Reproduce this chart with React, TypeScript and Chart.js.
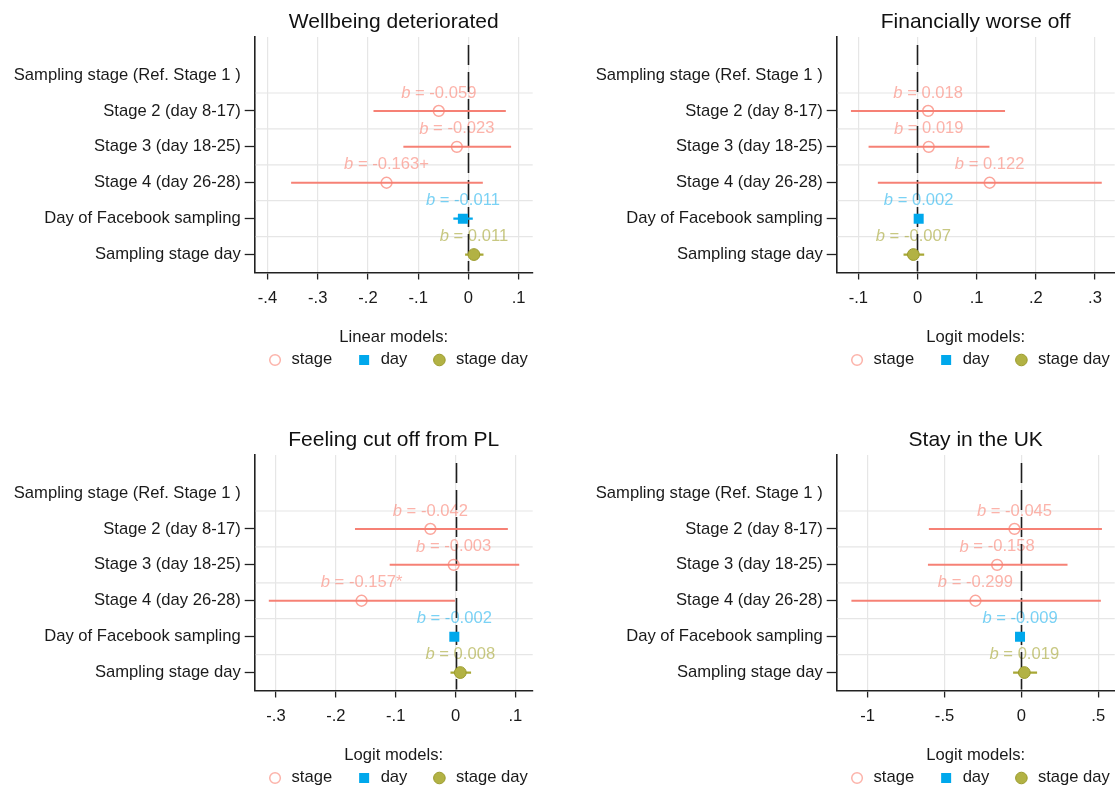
import React, { useEffect, useRef } from "react";
import { Chart, registerables } from "chart.js";

Chart.register(...registerables);

const FONT = '"Liberation Sans", Arial, Helvetica, sans-serif';

// ---------- text ----------
const rowLabels = [
  "Sampling stage (Ref. Stage 1 )",
  "Stage 2 (day 8-17)",
  "Stage 3 (day 18-25)",
  "Stage 4 (day 26-28)",
  "Day of Facebook sampling",
  "Sampling stage day",
];
const seriesNames = ["stage", "day", "stage day"];
const panelTitles = [
  "Wellbeing deteriorated",
  "Financially worse off",
  "Feeling cut off from PL",
  "Stay in the UK",
];
const modelLabels = ["Linear models:", "Logit models:", "Logit models:", "Logit models:"];

// ---------- data ----------
// order: Stage 2, Stage 3, Stage 4, Day of Facebook sampling, Sampling stage day
const wellbeingB = [-0.059, -0.023, -0.163, -0.011, 0.011];
const wellbeingLo = [-0.189, -0.1295, -0.353, -0.03, -0.0066];
const wellbeingHi = [0.0745, 0.085, 0.0287, 0.0087, 0.03];
const wellbeingStars = ["", "", "+", "", ""];

const financeB = [0.018, 0.019, 0.122, 0.002, -0.007];
const financeLo = [-0.1125, -0.0827, -0.067, -0.001, -0.0236];
const financeHi = [0.148, 0.1216, 0.3115, 0.005, 0.0113];
const financeStars = ["", "", "", "", ""];

const cutoffB = [-0.042, -0.003, -0.157, -0.002, 0.008];
const cutoffLo = [-0.168, -0.11, -0.312, -0.006, -0.0084];
const cutoffHi = [0.0875, 0.1065, -0.001, 0.002, 0.026];
const cutoffStars = ["", "", "*", "", ""];

const stayB = [-0.045, -0.158, -0.299, -0.009, 0.019];
const stayLo = [-0.602, -0.608, -1.106, -0.03, -0.054];
const stayHi = [0.524, 0.3, 0.517, 0.012, 0.102];
const stayStars = ["", "", "", "", ""];

const wellbeingTicks = [-0.4, -0.3, -0.2, -0.1, 0, 0.1];
const financeTicks = [-0.1, 0, 0.1, 0.2, 0.3];
const cutoffTicks = [-0.3, -0.2, -0.1, 0, 0.1];
const stayTicks = [-1, -0.5, 0, 0.5];

const wellbeingRange = [-0.4255, 0.128];
const financeRange = [-0.1366, 0.3334];
const cutoffRange = [-0.3356, 0.129];
const stayRange = [-1.2017, 0.607];

const coefRows = [1, 2, 3, 4, 5];
const rowTicks = [0, 1, 2, 3, 4, 5];
const gridRows = [0.5, 1.5, 2.5, 3.5, 4.5];

// ---------- style ----------
const W = 582;
const H = 418;
const AREA_LEFT = 254.7;
const AREA_RIGHT = 532.7;
const AREA_TOP = 37;
const XAXIS_H = 40;
const AREA_BOTTOM = 272.5;

const SALMON_LINE = "rgba(246,122,110,0.95)";
const SALMON_MARK = "rgba(250,128,114,0.7)";
const SALMON_TEXT = "rgba(250,128,114,0.6)";
const BLUE = "#00A8EC";
const BLUE_TEXT = "rgba(0,169,236,0.52)";
const OLIVE_FILL = "#B2B244";
const OLIVE_EDGE = "#9A9A2A";
const OLIVE_LINE = "#A8A836";
const OLIVE_TEXT = "rgba(160,160,40,0.58)";
const GRID = "#e6e6e6";
const AXIS = "#222222";
const TEXT = "#1a1a1a";
const FS = 16.6;

const fmtTick = (v: number) => {
  if (Math.abs(v) < 1e-9) return "0";
  const s = String(Math.round(v * 100) / 100);
  return s.replace(/^(-?)0\./, "$1.");
};

type PanelCfg = {
  title: string;
  model: string;
  b: number[];
  lo: number[];
  hi: number[];
  stars: string[];
  ticks: number[];
  range: number[];
};

const panels: PanelCfg[] = [
  { title: panelTitles[0], model: modelLabels[0], b: wellbeingB, lo: wellbeingLo, hi: wellbeingHi, stars: wellbeingStars, ticks: wellbeingTicks, range: wellbeingRange },
  { title: panelTitles[1], model: modelLabels[1], b: financeB, lo: financeLo, hi: financeHi, stars: financeStars, ticks: financeTicks, range: financeRange },
  { title: panelTitles[2], model: modelLabels[2], b: cutoffB, lo: cutoffLo, hi: cutoffHi, stars: cutoffStars, ticks: cutoffTicks, range: cutoffRange },
  { title: panelTitles[3], model: modelLabels[3], b: stayB, lo: stayLo, hi: stayHi, stars: stayStars, ticks: stayTicks, range: stayRange },
];

function drawMarker(ctx: CanvasRenderingContext2D, kind: number, x: number, y: number) {
  ctx.save();
  ctx.setLineDash([]);
  if (kind === 0) {
    ctx.beginPath();
    ctx.arc(x, y, 5.3, 0, Math.PI * 2);
    ctx.strokeStyle = "rgba(250,128,114,0.6)";
    ctx.lineWidth = 1.5;
    ctx.stroke();
  } else if (kind === 1) {
    ctx.fillStyle = BLUE;
    ctx.fillRect(x - 5, y - 5, 10, 10);
  } else {
    ctx.beginPath();
    ctx.arc(x, y, 5.8, 0, Math.PI * 2);
    ctx.fillStyle = OLIVE_FILL;
    ctx.fill();
    ctx.strokeStyle = OLIVE_EDGE;
    ctx.lineWidth = 1;
    ctx.stroke();
  }
  ctx.restore();
}

function makeOverlay(p: PanelCfg) {
  return {
    id: "coefOverlay",
    beforeDatasetsDraw(chart: any) {
      const { ctx, chartArea: a, scales } = chart;
      const xs = scales.x;
      const ys = scales.y;
      ctx.save();
      // horizontal grid between rows
      ctx.setLineDash([]);
      ctx.strokeStyle = GRID;
      ctx.lineWidth = 1.2;
      gridRows.forEach((r) => {
        const py = ys.getPixelForValue(r);
        ctx.beginPath();
        ctx.moveTo(a.left + 1, py);
        ctx.lineTo(a.right, py);
        ctx.stroke();
      });
      // coefficient labels
      p.b.forEach((v, i) => {
        const cx = xs.getPixelForValue(v);
        const cy = ys.getPixelForValue(coefRows[i] - 0.5);
        const color = i < 3 ? SALMON_TEXT : i === 3 ? BLUE_TEXT : OLIVE_TEXT;
        const rest = " = " + v.toFixed(3) + p.stars[i];
        ctx.font = `italic ${FS}px ${FONT}`;
        const wb = ctx.measureText("b").width;
        ctx.font = `${FS}px ${FONT}`;
        const wr = ctx.measureText(rest).width;
        const x0 = cx - (wb + wr) / 2;
        ctx.fillStyle = color;
        ctx.textBaseline = "middle";
        ctx.textAlign = "left";
        ctx.font = `italic ${FS}px ${FONT}`;
        ctx.fillText("b", x0, cy);
        ctx.font = `${FS}px ${FONT}`;
        ctx.fillText(rest, x0 + wb, cy);
      });
      ctx.restore();

      // zero reference line (dashed)
      ctx.save();
      const zx = Math.round(xs.getPixelForValue(0)) + 0.5;
      ctx.strokeStyle = "#1e1e1e";
      ctx.lineWidth = 1.6;
      ctx.lineCap = "butt";
      ctx.setLineDash([20, 7]);
      ctx.lineDashOffset = 0;
      ctx.beginPath();
      ctx.moveTo(zx, a.top + 8);
      ctx.lineTo(zx, a.bottom - 1);
      ctx.stroke();
      ctx.restore();
    },
    afterDraw(chart: any) {
      const { ctx, chartArea: a } = chart;
      const cx = (a.left + a.right) / 2;
      ctx.save();
      ctx.setLineDash([]);
      // title
      ctx.fillStyle = "#111";
      ctx.textAlign = "center";
      ctx.textBaseline = "middle";
      ctx.font = `21px ${FONT}`;
      ctx.fillText(p.title, cx, 22.5);
      // legend title
      ctx.font = `${FS}px ${FONT}`;
      ctx.fillStyle = TEXT;
      ctx.fillText(p.model, cx, 337.5);
      // legend items
      const half = 5.5;
      const gapMT = 16.5;
      const gapTM = 32;
      const widths = seriesNames.map((s) => ctx.measureText(s).width);
      let total = half;
      widths.forEach((w, i) => {
        total += gapMT + w + (i < widths.length - 1 ? gapTM : 0);
      });
      let mx = cx + 5 - total / 2 + half;
      const iy = 360;
      ctx.textAlign = "left";
      seriesNames.forEach((s, i) => {
        drawMarker(ctx, i, mx, iy);
        ctx.fillStyle = TEXT;
        ctx.font = `${FS}px ${FONT}`;
        ctx.textBaseline = "middle";
        ctx.fillText(s, mx + gapMT, iy - 0.5);
        mx += gapMT + widths[i] + gapTM;
      });
      ctx.restore();
    },
  };
}

function buildConfig(p: PanelCfg): any {
  const ciColor = (i: number) => (i < 3 ? SALMON_LINE : i === 3 ? BLUE : OLIVE_LINE);
  const datasets: any[] = [
    {
      label: seriesNames[0],
      data: [0, 1, 2].map((i) => ({ x: p.b[i], y: coefRows[i] })),
      pointStyle: "circle",
      pointRadius: 5.4,
      borderWidth: 1.5,
      borderColor: SALMON_MARK,
      backgroundColor: "rgba(0,0,0,0)",
      order: 0,
    },
    {
      label: seriesNames[1],
      data: [{ x: p.b[3], y: coefRows[3] }],
      pointStyle: "rect",
      pointRadius: 7.07,
      borderWidth: 0,
      borderColor: BLUE,
      backgroundColor: BLUE,
      order: 0,
    },
    {
      label: seriesNames[2],
      data: [{ x: p.b[4], y: coefRows[4] }],
      pointStyle: "circle",
      pointRadius: 5.9,
      borderWidth: 1,
      borderColor: OLIVE_EDGE,
      backgroundColor: OLIVE_FILL,
      order: 0,
    },
    ...coefRows.map((r, i) => ({
      label: "ci" + i,
      data: [
        { x: p.lo[i], y: r },
        { x: p.hi[i], y: r },
      ],
      showLine: true,
      pointRadius: 0,
      borderColor: ciColor(i),
      backgroundColor: ciColor(i),
      borderWidth: i < 3 ? 2 : 2.2,
      order: 1,
    })),
  ];

  return {
    type: "scatter",
    data: { datasets },
    plugins: [makeOverlay(p)],
    options: {
      responsive: false,
      animation: false,
      events: [],
      layout: {
        padding: {
          left: 0,
          right: W - AREA_RIGHT,
          top: AREA_TOP,
          bottom: H - AREA_BOTTOM - XAXIS_H,
        },
      },
      plugins: {
        legend: { display: false },
        tooltip: { enabled: false },
        title: { display: false },
      },
      scales: {
        x: {
          type: "linear",
          position: "bottom",
          min: p.range[0],
          max: p.range[1],
          afterBuildTicks: (s: any) => {
            s.ticks = p.ticks.map((v) => ({ value: v }));
          },
          afterFit: (s: any) => {
            s.height = XAXIS_H;
          },
          ticks: {
            autoSkip: false,
            maxRotation: 0,
            padding: 8.5,
            color: TEXT,
            font: { family: FONT, size: FS },
            callback: (v: any) => fmtTick(Number(v)),
          },
          grid: {
            color: GRID,
            lineWidth: 1.2,
            tickLength: 7,
            tickColor: AXIS,
            tickWidth: 1.3,
          },
          border: { display: true, color: AXIS, width: 1.6 },
        },
        y: {
          type: "linear",
          position: "left",
          reverse: true,
          min: -1.06,
          max: 5.5,
          afterBuildTicks: (s: any) => {
            s.ticks = rowTicks.map((v) => ({ value: v }));
          },
          afterFit: (s: any) => {
            s.width = AREA_LEFT;
          },
          ticks: {
            autoSkip: false,
            padding: 4,
            color: TEXT,
            font: { family: FONT, size: FS },
            callback: (v: any) => rowLabels[Number(v)] ?? "",
          },
          grid: {
            drawOnChartArea: false,
            tickLength: 10,
            tickWidth: 1.3,
            tickColor: (c: any) => (c.tick && c.tick.value === 0 ? "rgba(0,0,0,0)" : AXIS),
          },
          border: { display: true, color: AXIS, width: 1.6 },
        },
      },
    },
  };
}

function Panel({ cfg, left, top }: { cfg: PanelCfg; left: number; top: number }) {
  const ref = useRef<HTMLCanvasElement>(null);
  useEffect(() => {
    if (!ref.current) return;
    const chart = new Chart(ref.current, buildConfig(cfg));
    return () => chart.destroy();
  }, [cfg]);
  return (
    <canvas
      ref={ref}
      width={W}
      height={H}
      style={{ position: "absolute", left, top, width: W, height: H }}
    />
  );
}

export default function App() {
  return (
    <div
      style={{
        position: "fixed",
        left: 0,
        top: 0,
        width: 1115,
        height: 789,
        overflow: "hidden",
        background: "#ffffff",
      }}
    >
      <Panel cfg={panels[0]} left={0} top={0} />
      <Panel cfg={panels[1]} left={582} top={0} />
      <Panel cfg={panels[2]} left={0} top={418} />
      <Panel cfg={panels[3]} left={582} top={418} />
    </div>
  );
}
